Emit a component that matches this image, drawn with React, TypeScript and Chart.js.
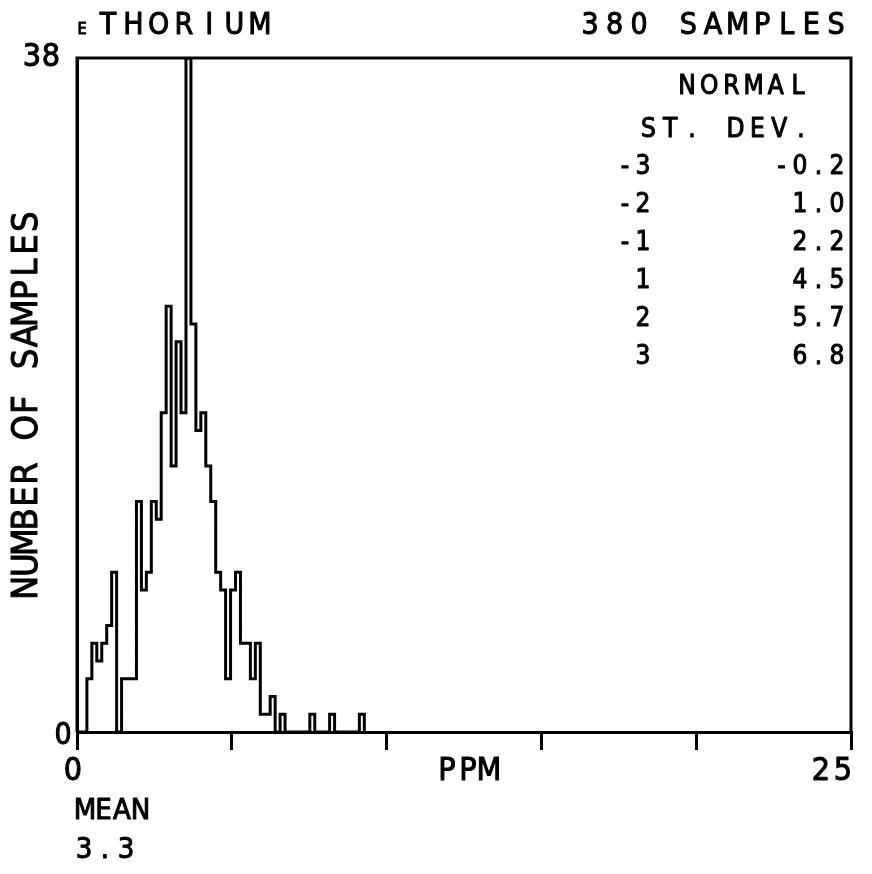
import React, { useEffect, useRef } from 'react';
import { Chart, registerables } from 'chart.js';

Chart.register(...registerables);

// ---- data ----
const BIN_WIDTH = 0.16; // ppm per histogram class
const COUNTS = [
  0, 0, 3, 5, 4, 5, 6, 9, 0, 3, 3, 3, 13, 8, 9, 13, 12, 18, 24, 15,
  22, 18, 38, 23, 17, 18, 15, 13, 9, 8, 3, 8, 9, 5, 5, 3, 5, 1, 1, 2,
  0, 1, 0, 0, 0, 0, 0, 1, 0, 0, 0, 1, 0, 0, 0, 0, 0, 1, 0,
];
const X_MIN = 0;
const X_MAX = 25;
const X_TICKS = [0, 5, 10, 15, 20, 25];
const X_TICK_LABELS = ['0', '25'];
const Y_MIN = 0;
const Y_MAX = 38;
const Y_TICKS = [0, 38];
const Y_TICK_LABELS = ['0', '38'];
const TITLE = 'THORIUM';
const TITLE_MARK = 'E';
const SAMPLES_LABEL = '380 SAMPLES';
const X_TITLE = 'PPM';
const Y_TITLE = 'NUMBER OF SAMPLES';
const SD_HEADER = ['NORMAL', 'ST. DEV.'];
const SD_LEVELS = ['-3', '-2', '-1', '1', '2', '3'];
const SD_VALUES = ['-0.2', '1.0', '2.2', '4.5', '5.7', '6.8'];
const MEAN_LABEL = 'MEAN';
const MEAN_VALUE = '3.3';

const FONT = "'DejaVu Sans Condensed', 'Liberation Sans Narrow', 'DejaVu Sans', sans-serif";

function mono(ctx: CanvasRenderingContext2D, text: string, xFirst: number, y: number, size: number, cell: number, stroke = 1) {
  ctx.font = `normal ${size}px ${FONT}`;
  ctx.textAlign = 'center';
  ctx.textBaseline = 'middle';
  ctx.lineWidth = stroke;
  ctx.lineJoin = 'round';
  for (let i = 0; i < text.length; i++) {
    const ch = text[i];
    if (ch === ' ') continue;
    ctx.fillText(ch, xFirst + i * cell, y);
    if (stroke > 0) ctx.strokeText(ch, xFirst + i * cell, y);
  }
}
function monoRight(ctx: CanvasRenderingContext2D, text: string, xLast: number, y: number, size: number, cell: number) {
  mono(ctx, text, xLast - (text.length - 1) * cell, y, size, cell);
}

const textPlugin = {
  id: 'plotterText',
  afterDraw(chart: any) {
    const ctx: CanvasRenderingContext2D = chart.ctx;
    const { left, right, top, bottom } = chart.chartArea;
    ctx.save();
    ctx.fillStyle = '#000';
    ctx.strokeStyle = '#000';
    // frame top/right
    ctx.lineWidth = 3;
    ctx.beginPath();
    ctx.moveTo(left, bottom);
    ctx.lineTo(left, top);
    ctx.lineTo(right, top);
    ctx.lineTo(right, bottom);
    ctx.stroke();

    // headings
    mono(ctx, TITLE_MARK, 82, 30, 16, 10);
    mono(ctx, TITLE, 108, 26, 30, 25.3);
    monoRight(ctx, SAMPLES_LABEL, 836, 26, 30, 24.6);

    // y tick labels
    const ys = chart.scales.y;
    monoRight(ctx, Y_TICK_LABELS[1], 51, ys.getPixelForValue(Y_TICKS[1]), 32, 19);
    monoRight(ctx, Y_TICK_LABELS[0], 63, ys.getPixelForValue(Y_TICKS[0]) + 4, 30, 19);

    // legend block
    mono(ctx, SD_HEADER[0], 687, 87, 26, 22.2);
    monoRight(ctx, SD_HEADER[1], 801, 130, 26, 21.8);
    const rowY = [167, 205, 243, 281, 319, 357];
    SD_LEVELS.forEach((s, i) => monoRight(ctx, s, 643, rowY[i], 26, 18));
    SD_VALUES.forEach((s, i) => monoRight(ctx, s, 837, rowY[i], 26, 18.5));

    // x axis labels
    const xs = chart.scales.x;
    mono(ctx, X_TICK_LABELS[0], xs.getPixelForValue(X_MIN) - 4, 772, 32, 20);
    monoRight(ctx, X_TICK_LABELS[1], xs.getPixelForValue(X_MAX) - 8, 772, 32, 22);
    mono(ctx, X_TITLE, 447, 772, 32, 21);

    // mean
    mono(ctx, MEAN_LABEL, 85, 811, 29, 18.5);
    mono(ctx, MEAN_VALUE, 84, 850, 29, 21);

    // y title
    ctx.save();
    ctx.translate(28, 405);
    ctx.rotate(-Math.PI / 2);
    mono(ctx, Y_TITLE, -183, 0, 36, 22.9);
    ctx.restore();

    ctx.restore();
  },
};

export default function App() {
  const ref = useRef<HTMLCanvasElement>(null);
  useEffect(() => {
    if (!ref.current) return;
    const points = COUNTS.map((c, i) => ({ x: i * BIN_WIDTH, y: c }));
    const chart = new Chart(ref.current, {
      type: 'line',
      data: {
        datasets: [
          {
            data: points,
            stepped: 'before',
            borderColor: '#000',
            borderWidth: 3,
            pointRadius: 0,
            fill: false,
          },
        ],
      },
      options: {
        animation: false,
        responsive: false,
        maintainAspectRatio: false,
        layout: { padding: { left: 0, top: 58, right: 21, bottom: 0 } },
        plugins: { legend: { display: false }, tooltip: { enabled: false }, title: { display: false } },
        scales: {
          x: {
            type: 'linear',
            min: X_MIN,
            max: X_MAX,
            afterBuildTicks: (s: any) => {
              s.ticks = X_TICKS.map((v) => ({ value: v }));
            },
            ticks: { display: false },
            grid: { display: true, drawOnChartArea: false, drawTicks: true, tickLength: 18, color: '#000', lineWidth: 3 },
            border: { display: true, color: '#000', width: 3 },
            afterFit: (s: any) => {
              s.height = 874 - 732;
            },
          },
          y: {
            type: 'linear',
            min: Y_MIN,
            max: Y_MAX,
            afterBuildTicks: (s: any) => {
              s.ticks = Y_TICKS.map((v) => ({ value: v }));
            },
            ticks: { display: false },
            grid: { display: false, drawTicks: false },
            border: { display: true, color: '#000', width: 3 },
            afterFit: (s: any) => {
              s.width = 77;
            },
          },
        },
      },
      plugins: [textPlugin],
    });
    return () => chart.destroy();
  }, []);
  return (
    <div style={{ position: 'absolute', left: 0, top: 0, width: 872, height: 874, background: '#fff' }}>
      <canvas ref={ref} width={872} height={874} style={{ display: 'block', width: 872, height: 874 }} />
    </div>
  );
}
